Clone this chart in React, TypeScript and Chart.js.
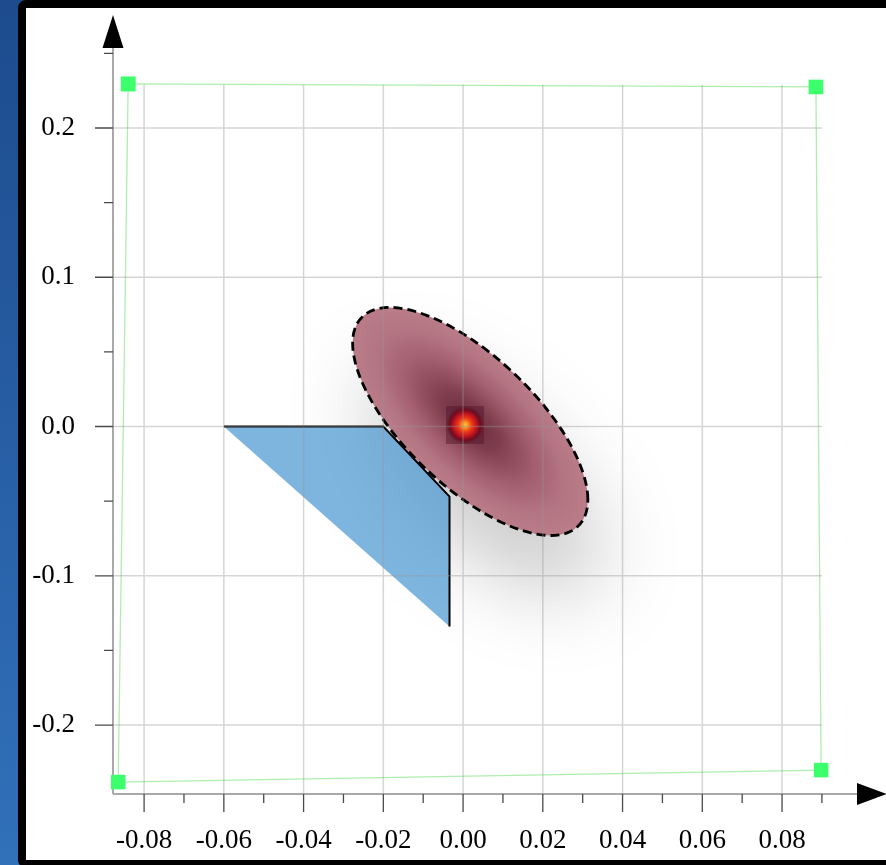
import { useEffect, useRef } from 'react';
import { Chart, registerables } from 'chart.js';

Chart.register(...registerables);

// Axis extents (data units); the arrows sit just past these.
const X_MIN = -0.0878;
const X_MAX = 0.0988;
const Y_MIN = -0.2462;
const Y_MAX = 0.2536;

// The grid only covers the region up to these values.
const GRID_X_MAX = 0.09;
const GRID_Y_MAX = 0.229;

// Tick positions
const X_MAJOR = [-0.08, -0.06, -0.04, -0.02, 0, 0.02, 0.04, 0.06, 0.08];
const X_MINOR = [-0.07, -0.05, -0.03, -0.01, 0.01, 0.03, 0.05, 0.07, 0.09];
const Y_MAJOR = [-0.2, -0.1, 0, 0.1, 0.2];
const Y_MINOR = [-0.15, -0.05, 0.05, 0.15, 0.25];

// Green bounding frame (top-left, top-right, bottom-right, bottom-left, back to start)
const FRAME_X = [-0.084, 0.0885, 0.0898, -0.0865, -0.084];
const FRAME_Y = [0.2295, 0.2275, -0.2302, -0.2382, 0.2295];

// Blue region outline (the closing edge back to the first vertex is not stroked)
const REGION_X = [-0.06, -0.02, -0.0034, -0.0034];
const REGION_Y = [0, 0, -0.047, -0.134];

// Uncertainty ellipse: centre, standard deviations and correlation
const ELLIPSE_CX = 0.0018;
const ELLIPSE_CY = 0.0034;
const ELLIPSE_SX = 0.0295;
const ELLIPSE_SY = 0.0764;
const ELLIPSE_RHO = -0.685;

// Peak marker
const PEAK_X = 0.0005;
const PEAK_Y = 0.001;

const FONT_FAMILY = "'Liberation Serif', 'Times New Roman', serif";

function makePeakSprite(): HTMLCanvasElement {
  const size = 38;
  const c = document.createElement('canvas');
  c.width = size;
  c.height = size;
  const g = c.getContext('2d')!;
  const r = size / 2;
  const grad = g.createRadialGradient(r, r, 0, r, r, r);
  grad.addColorStop(0, '#ffc445');
  grad.addColorStop(0.14, '#ff9a22');
  grad.addColorStop(0.36, '#ee3a18');
  grad.addColorStop(0.6, '#c01420');
  grad.addColorStop(0.8, '#700d1f');
  grad.addColorStop(1, 'rgba(80,20,42,0.45)');
  g.fillStyle = grad;
  g.fillRect(0, 0, size, size);
  return c;
}

const decorPlugin = {
  id: 'decor',
  beforeDatasetsDraw(chart: any) {
    const { ctx, chartArea } = chart;
    const xs = chart.scales.x;
    const ys = chart.scales.y;

    // ---- axes, tick marks and arrows ----
    const left = chartArea.left;
    const bottom = chartArea.bottom;
    ctx.save();
    ctx.strokeStyle = '#a9a9a9';
    ctx.lineWidth = 2;
    ctx.beginPath();
    ctx.moveTo(left, bottom);
    ctx.lineTo(left, chartArea.top);
    ctx.moveTo(left, bottom);
    ctx.lineTo(chartArea.right, bottom);
    ctx.stroke();

    ctx.strokeStyle = '#4a4a4a';
    ctx.lineWidth = 1.3;
    ctx.beginPath();
    for (const v of X_MAJOR) {
      const px = xs.getPixelForValue(v);
      ctx.moveTo(px, bottom);
      ctx.lineTo(px, bottom + 18);
    }
    for (const v of X_MINOR) {
      const px = xs.getPixelForValue(v);
      ctx.moveTo(px, bottom);
      ctx.lineTo(px, bottom + 9);
    }
    for (const v of Y_MAJOR) {
      const py = ys.getPixelForValue(v);
      ctx.moveTo(left - 18, py);
      ctx.lineTo(left, py);
    }
    for (const v of Y_MINOR) {
      const py = ys.getPixelForValue(v);
      ctx.moveTo(left - 9, py);
      ctx.lineTo(left, py);
    }
    ctx.stroke();

    ctx.fillStyle = '#000';
    ctx.beginPath();
    ctx.moveTo(left, chartArea.top - 33);
    ctx.lineTo(left - 10.5, chartArea.top);
    ctx.lineTo(left + 10.5, chartArea.top);
    ctx.closePath();
    ctx.fill();
    ctx.beginPath();
    ctx.moveTo(chartArea.right + 30, bottom);
    ctx.lineTo(chartArea.right, bottom - 11);
    ctx.lineTo(chartArea.right, bottom + 11);
    ctx.closePath();
    ctx.fill();
    ctx.restore();

    // ---- uncertainty ellipse ----
    const cx = xs.getPixelForValue(ELLIPSE_CX);
    const cy = ys.getPixelForValue(ELLIPSE_CY);
    const ux = xs.getPixelForValue(ELLIPSE_CX + ELLIPSE_SX) - cx;
    const uy = ys.getPixelForValue(ELLIPSE_CY + ELLIPSE_RHO * ELLIPSE_SY) - cy;
    const vy = ys.getPixelForValue(ELLIPSE_CY + ELLIPSE_SY * Math.sqrt(1 - ELLIPSE_RHO * ELLIPSE_RHO)) - cy;

    ctx.save();
    ctx.shadowColor = 'rgba(0,0,0,0.2)';
    ctx.shadowBlur = 80;
    ctx.shadowOffsetX = 14;
    ctx.shadowOffsetY = 60;
    ctx.save();
    ctx.transform(ux, uy, 0, vy, cx, cy);
    ctx.beginPath();
    ctx.arc(0, 0, 1, 0, Math.PI * 2);
    ctx.closePath();
    const grad = ctx.createRadialGradient(0, 0, 0, 0, 0, 1);
    grad.addColorStop(0, '#6c2a3c');
    grad.addColorStop(0.25, '#7f3e4f');
    grad.addColorStop(0.55, '#a35f6f');
    grad.addColorStop(0.8, '#b47583');
    grad.addColorStop(1, '#ba7c88');
    ctx.fillStyle = grad;
    ctx.fill();
    ctx.restore();
    ctx.shadowColor = 'rgba(0,0,0,0)';
    ctx.shadowBlur = 0;
    ctx.shadowOffsetX = 0;
    ctx.shadowOffsetY = 0;
    ctx.setLineDash([9, 5]);
    ctx.lineWidth = 2.8;
    ctx.strokeStyle = '#000';
    ctx.stroke();
    ctx.restore();
  },
  afterDatasetsDraw(chart: any) {
    const { ctx, chartArea } = chart;
    const xs = chart.scales.x;
    const ys = chart.scales.y;
    const top = ys.getPixelForValue(GRID_Y_MAX);
    const right = xs.getPixelForValue(GRID_X_MAX);
    ctx.save();
    ctx.strokeStyle = 'rgba(150,150,150,0.4)';
    ctx.lineWidth = 1.5;
    ctx.beginPath();
    for (const v of X_MAJOR) {
      const px = xs.getPixelForValue(v);
      ctx.moveTo(px, top);
      ctx.lineTo(px, chartArea.bottom);
    }
    for (const v of Y_MAJOR) {
      const py = ys.getPixelForValue(v);
      ctx.moveTo(chartArea.left, py);
      ctx.lineTo(right, py);
    }
    ctx.stroke();
    ctx.restore();
  },
};

export default function App() {
  const ref = useRef<HTMLCanvasElement>(null);

  useEffect(() => {
    const canvas = ref.current;
    if (!canvas) return;
    const peak = makePeakSprite();

    const chart = new Chart(canvas, {
      type: 'scatter',
      data: {
        datasets: [
          {
            type: 'scatter',
            label: 'peak',
            data: [{ x: PEAK_X, y: PEAK_Y }],
            pointStyle: peak,
            pointRadius: 19,
            order: 0,
          } as any,
          {
            type: 'line',
            label: 'frame',
            data: FRAME_X.map((x, i) => ({ x, y: FRAME_Y[i] })),
            showLine: true,
            fill: false,
            tension: 0,
            borderColor: 'rgba(95,222,95,0.5)',
            borderWidth: 1.3,
            pointStyle: 'rect',
            pointRadius: 10.3,
            pointBackgroundColor: '#3cff6c',
            pointBorderColor: '#3cff6c',
            pointBorderWidth: 0,
            clip: false,
            order: 1,
          } as any,
          {
            type: 'line',
            label: 'region outline',
            data: REGION_X.map((x, i) => ({ x, y: REGION_Y[i] })),
            showLine: true,
            fill: false,
            tension: 0,
            borderColor: '#000',
            borderWidth: 2,
            borderJoinStyle: 'miter',
            pointRadius: 0,
            order: 2,
          } as any,
          {
            type: 'line',
            label: 'region',
            data: REGION_X.map((x, i) => ({ x, y: REGION_Y[i] })),
            showLine: true,
            fill: 'shape',
            tension: 0,
            backgroundColor: 'rgba(70,150,210,0.7)',
            borderColor: 'rgba(0,0,0,0)',
            borderWidth: 0,
            pointRadius: 0,
            order: 3,
          } as any,
        ],
      },
      options: {
        animation: false,
        responsive: false,
        maintainAspectRatio: false,
        devicePixelRatio: 1,
        events: [],
        layout: { padding: { top: 40, right: 29, left: 0, bottom: 0 } },
        plugins: {
          legend: { display: false },
          tooltip: { enabled: false },
        },
        scales: {
          x: {
            type: 'linear',
            min: X_MIN,
            max: X_MAX,
            afterBuildTicks: (axis: any) => {
              axis.ticks = X_MAJOR.map((v) => ({ value: v }));
            },
            afterFit: (axis: any) => {
              axis.height = 66;
              axis.paddingLeft = 0;
              axis.paddingRight = 0;
            },
            grid: { display: false, drawTicks: false, tickLength: 0 },
            border: { display: false },
            ticks: {
              padding: 31,
              autoSkip: false,
              maxRotation: 0,
              color: '#000',
              font: { family: FONT_FAMILY, size: 27 },
              callback: (v: any) => Number(v).toFixed(2),
            },
          },
          y: {
            type: 'linear',
            min: Y_MIN,
            max: Y_MAX,
            afterBuildTicks: (axis: any) => {
              axis.ticks = Y_MAJOR.map((v) => ({ value: v }));
            },
            afterFit: (axis: any) => {
              axis.width = 87;
              axis.paddingTop = 0;
              axis.paddingBottom = 0;
            },
            grid: { display: false, drawTicks: false, tickLength: 0 },
            border: { display: false },
            ticks: {
              padding: 38,
              autoSkip: false,
              color: '#000',
              font: { family: FONT_FAMILY, size: 27 },
              callback: (v: any) => Number(v).toFixed(1),
            },
          },
        },
      } as any,
      plugins: [decorPlugin],
    });

    return () => chart.destroy();
  }, []);

  return (
    <div
      style={{
        position: 'fixed',
        left: 0,
        top: 0,
        width: 886,
        height: 865,
        overflow: 'hidden',
        background: 'linear-gradient(180deg, #1d4b8e 0%, #3171ba 100%)',
      }}
    >
      <div
        style={{
          position: 'absolute',
          left: 18,
          top: 0,
          width: 880,
          height: 852,
          border: '8px solid #000',
          borderRadius: 8,
          background: '#fff',
          overflow: 'hidden',
        }}
      >
        <canvas ref={ref} width={860} height={852} style={{ display: 'block', width: 860, height: 852 }} />
      </div>
    </div>
  );
}
